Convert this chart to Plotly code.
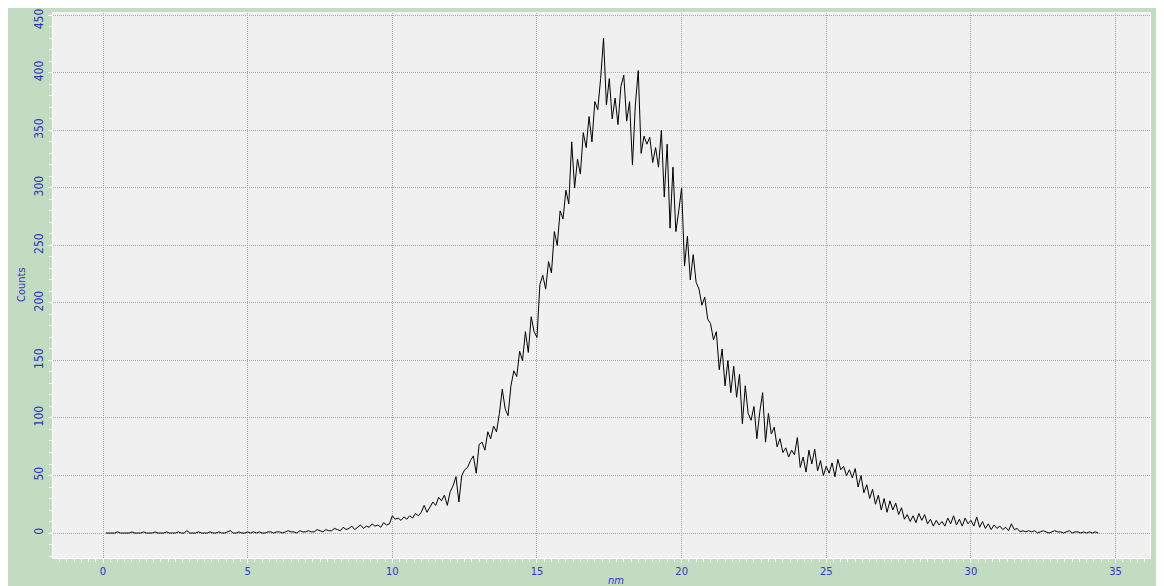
import plotly.graph_objects as go

# x positions (nm), 0.1 nm bins from 0.1 to 34.4
nm_start = 0.1
nm_step = 0.1
counts = [
    # 0.1 - 5.0
    0, 0, 0, 0, 1, 0, 0, 0, 0, 1,
    0, 0, 0, 1, 0, 0, 0, 1, 0, 0,
    0, 1, 0, 0, 0, 1, 0, 0, 2, 0,
    0, 0, 1, 0, 0, 0, 1, 0, 0, 1,
    0, 0, 1, 2, 0, 0, 1, 0, 0, 1,
    # 5.1 - 10.0
    0, 1, 0, 1, 0, 0, 1, 1, 0, 1,
    1, 0, 1, 2, 1, 1, 0, 2, 1, 1,
    2, 1, 1, 3, 2, 1, 3, 2, 2, 4,
    3, 2, 5, 3, 4, 6, 3, 5, 7, 4,
    6, 5, 8, 6, 7, 5, 9, 7, 8, 15,
    # 10.1 - 15.0
    12, 13, 11, 14, 12, 15, 13, 17, 15, 18,
    24, 18, 22, 27, 24, 31, 28, 33, 24, 36,
    41, 49, 27, 50, 55, 57, 63, 67, 52, 77,
    79, 72, 88, 82, 93, 88, 104, 125, 108, 102,
    128, 141, 136, 158, 150, 175, 157, 188, 175, 170,
    # 15.1 - 20.0
    216, 224, 212, 236, 226, 262, 250, 280, 273, 298,
    286, 340, 300, 325, 312, 348, 335, 362, 340, 375,
    368, 395, 430, 372, 395, 360, 378, 355, 388, 398,
    358, 375, 320, 372, 402, 330, 345, 338, 344, 322,
    335, 318, 350, 292, 338, 265, 318, 262, 280, 300,
    # 20.1 - 25.0
    232, 258, 220, 242, 218, 212, 198, 205, 186, 182,
    168, 175, 142, 160, 128, 150, 122, 145, 118, 138,
    95, 128, 104, 98, 110, 82, 105, 122, 79, 104,
    86, 92, 75, 82, 70, 74, 66, 72, 68, 83,
    57, 66, 53, 72, 60, 73, 54, 63, 50, 58,
    # 25.1 - 30.0
    52, 61, 49, 64, 55, 58, 50, 55, 48, 56,
    40, 50, 35, 42, 30, 38, 25, 33, 20, 30,
    18, 28, 20, 26, 16, 22, 12, 16, 10, 15,
    9, 17, 11, 16, 8, 12, 6, 11, 7, 10,
    6, 13, 8, 15, 7, 12, 6, 13, 8, 11,
    # 30.1 - 34.4
    6, 14, 5, 10, 4, 8, 3, 7, 4, 6,
    3, 5, 2, 8, 3, 4, 1, 2, 1, 2,
    1, 2, 0, 1, 2, 1, 0, 1, 2, 1,
    1, 0, 1, 2, 0, 1, 1, 0, 1, 0,
    1, 0, 1, 0,
]
nm = [round(nm_start + i * nm_step, 2) for i in range(len(counts))]

x_ticks = [0, 5, 10, 15, 20, 25, 30, 35]
y_ticks = [0, 50, 100, 150, 200, 250, 300, 350, 400, 450]
x_title = "nm"
y_title = "Counts"

W, H = 1164, 586
OFF = 8  # page body margin
ml, mr, mt, mb = 53 - OFF, 22, 13 - OFF, 36
pw = W - ml - mr
ph = H - mt - mb

label_color = "#3434c4"
green = "#c1dcc1"
grid_color = "#a8a8a8"
yfont = dict(family="Liberation Sans Narrow, DejaVu Sans Condensed, sans-serif", size=12, color=label_color)

def py2paper(py):  # py: screen pixel
    return (H - mb - (py - OFF)) / ph

def px2paper(px):
    return ((px - OFF) - ml) / pw

fig = go.Figure()
fig.add_trace(go.Scatter(x=nm, y=counts, mode="lines",
                         line=dict(color="#000000", width=1),
                         hoverinfo="skip", showlegend=False))

# the topmost y label sits pushed down inside the figure, drawn separately
y_ticktext = [str(v) for v in y_ticks[:-1]] + [""]

fig.update_layout(
    template="none",
    width=W, height=H,
    margin=dict(l=ml, r=mr, t=mt, b=mb, pad=0, autoexpand=False),
    paper_bgcolor=green,
    plot_bgcolor="#f0f0f0",
    showlegend=False,
    xaxis=dict(
        automargin=False,
        range=[-1.73, 36.19], tickvals=x_ticks, ticktext=[str(v) for v in x_ticks],
        showgrid=True, gridcolor=grid_color, griddash="1px,1px", gridwidth=1,
        zeroline=False, showline=True, linecolor="#ffffff", linewidth=1, mirror=True,
        ticks="outside", ticklen=4, tickcolor="#ffffff", tickwidth=1,
        minor=dict(dtick=0.25, tick0=0, ticks="outside", ticklen=3, tickcolor="#ffffff", showgrid=False),
        tickfont=dict(family="DejaVu Sans", size=10, color=label_color),
    ),
    yaxis=dict(
        automargin=False,
        range=[-21.7, 452], tickvals=y_ticks, ticktext=y_ticktext,
        showgrid=True, gridcolor=grid_color, griddash="1px,1px", gridwidth=1,
        zeroline=False, showline=True, linecolor="#ffffff", linewidth=1, mirror=True,
        ticks="outside", ticklen=4, tickcolor="#ffffff", tickwidth=1,
        minor=dict(dtick=10, tick0=0, ticks="outside", ticklen=3, tickcolor="#ffffff", showgrid=False),
        tickangle=-90,
        tickfont=yfont,
    ),
)

fig.add_annotation(text=str(y_ticks[-1]), xref="paper", yref="y",
                   x=px2paper(39), y=y_ticks[-1], yshift=-4,
                   xanchor="center", yanchor="middle", showarrow=False,
                   textangle=-90, font=yfont)

# axis titles
fig.add_annotation(text=x_title, xref="paper", yref="paper",
                   x=px2paper(616), y=py2paper(580), xanchor="center", yanchor="middle",
                   showarrow=False,
                   font=dict(family="DejaVu Sans", size=10, color=label_color, style="italic"))
fig.add_annotation(text=y_title, xref="paper", yref="paper",
                   x=px2paper(21), y=py2paper(285), xanchor="center", yanchor="middle",
                   showarrow=False, textangle=-90,
                   font=dict(family="Liberation Sans Narrow, DejaVu Sans Condensed, sans-serif", size=11, color=label_color))

fig.write_html("out.html")
